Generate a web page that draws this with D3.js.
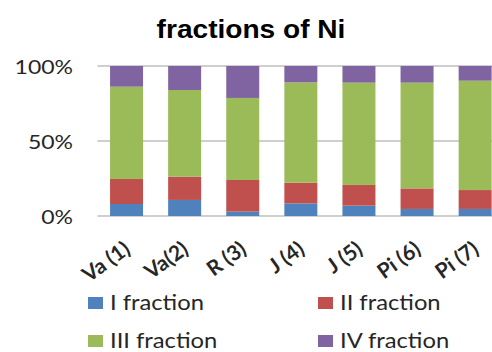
<!DOCTYPE html>
<html>
<head>
<meta charset="utf-8">
<script src="https://cdn.jsdelivr.net/npm/d3@7"></script>
<style>
  html, body { margin: 0; padding: 0; background: #fff; }
  svg { display: block; }
</style>
</head>
<body>
<svg id="chart" width="492" height="352"></svg>
<script>
// Sample sites along the x axis
const categories = ["Va (1)", "Va(2)", "R (3)", "J (4)", "J (5)", "Pi (6)", "Pi (7)"];
// Share of each fraction per site, in percent
const fractionI   = [8.0, 10.7, 2.9, 8.4, 6.9, 4.7, 4.7];
const fractionII  = [16.7, 15.5, 21.1, 13.8, 13.8, 13.7, 12.6];
const fractionIII = [61.5, 57.8, 54.7, 66.9, 68.2, 70.5, 72.9];
const fractionIV  = [13.8, 16.0, 21.3, 10.9, 11.1, 11.1, 9.8];
const seriesNames = ["I fraction", "II fraction", "III fraction", "IV fraction"];
const yTicks = [0, 0.5, 1];

const colors = ["#4F81BD", "#C0504D", "#9BBB59", "#8064A2"];
const series = [fractionI, fractionII, fractionIII, fractionIV];

const rows = categories.map((c, i) => {
  const r = { cat: c };
  seriesNames.forEach((s, k) => { r[s] = series[k][i]; });
  return r;
});

const stacked = d3.stack().keys(seriesNames).offset(d3.stackOffsetExpand)(rows);

const svg = d3.select("#chart");

const x = d3.scaleBand()
  .domain(categories)
  .range([97.5, 504.2])
  .paddingInner(0.432)
  .paddingOuter(0.216);

const y = d3.scaleLinear().domain([0, 1]).range([216, 66]);

// Title
svg.append("text")
  .attr("transform", "translate(251,38) scale(1.06,1)")
  .attr("text-anchor", "middle")
  .attr("font-family", "Liberation Sans, Arial, sans-serif")
  .attr("font-weight", "bold")
  .attr("font-size", 26.5)
  .attr("fill", "#000")
  .text("fractions of Ni");

// Horizontal gridlines
svg.append("g")
  .selectAll("line")
  .data(yTicks)
  .join("line")
  .attr("x1", 97.5)
  .attr("x2", 510)
  .attr("y1", d => y(d))
  .attr("y2", d => y(d))
  .attr("stroke", "#cfcfcf")
  .attr("stroke-width", 2);

// Y axis labels
const yAxis = d3.axisLeft(y)
  .tickValues(yTicks)
  .tickFormat(d3.format(".0%"))
  .tickSize(0)
  .tickPadding(0);

svg.append("g")
  .attr("transform", "translate(73,0)")
  .call(yAxis)
  .call(g => g.select(".domain").remove())
  .call(g => g.selectAll("text")
    .attr("font-family", "Lato, sans-serif")
    .attr("font-size", 20)
    .attr("fill", "#262626")
    .attr("x", 0)
    .attr("dy", "0.36em")
    .attr("transform", "scale(1.15,1)"));

// Stacked bars
svg.append("g")
  .selectAll("g")
  .data(stacked)
  .join("g")
  .attr("fill", (d, i) => colors[i])
  .selectAll("rect")
  .data(d => d)
  .join("rect")
  .attr("x", d => x(d.data.cat))
  .attr("y", d => y(d[1]))
  .attr("width", x.bandwidth())
  .attr("height", d => y(d[0]) - y(d[1]));

// Category labels, rotated
const xAxis = d3.axisBottom(x).tickSize(0).tickPadding(0);
svg.append("g")
  .attr("transform", "translate(0,216)")
  .call(xAxis)
  .call(g => g.select(".domain").remove())
  .call(g => g.selectAll("text")
    .attr("font-family", "Lato, sans-serif")
    .attr("font-weight", "bold")
    .attr("font-size", 21)
    .attr("fill", "#262626")
    .attr("text-anchor", "end")
    .attr("dy", null)
    .attr("y", 0)
    .attr("transform", "translate(5,36) rotate(-36)"));

// Legend
const legendPos = [[88, 297], [318, 297], [88, 335], [318, 335]];
const legend = svg.append("g")
  .selectAll("g")
  .data(seriesNames)
  .join("g")
  .attr("transform", (d, i) => `translate(${legendPos[i][0]},${legendPos[i][1]})`);

legend.append("rect")
  .attr("width", 15)
  .attr("height", 12)
  .attr("fill", (d, i) => colors[i]);

legend.append("text")
  .attr("transform", "translate(22,13) scale(1.08,1)")
  .attr("font-family", "Lato, sans-serif")
  .attr("font-size", 22)
  .attr("fill", "#262626")
  .text(d => d);
</script>
</body>
</html>
